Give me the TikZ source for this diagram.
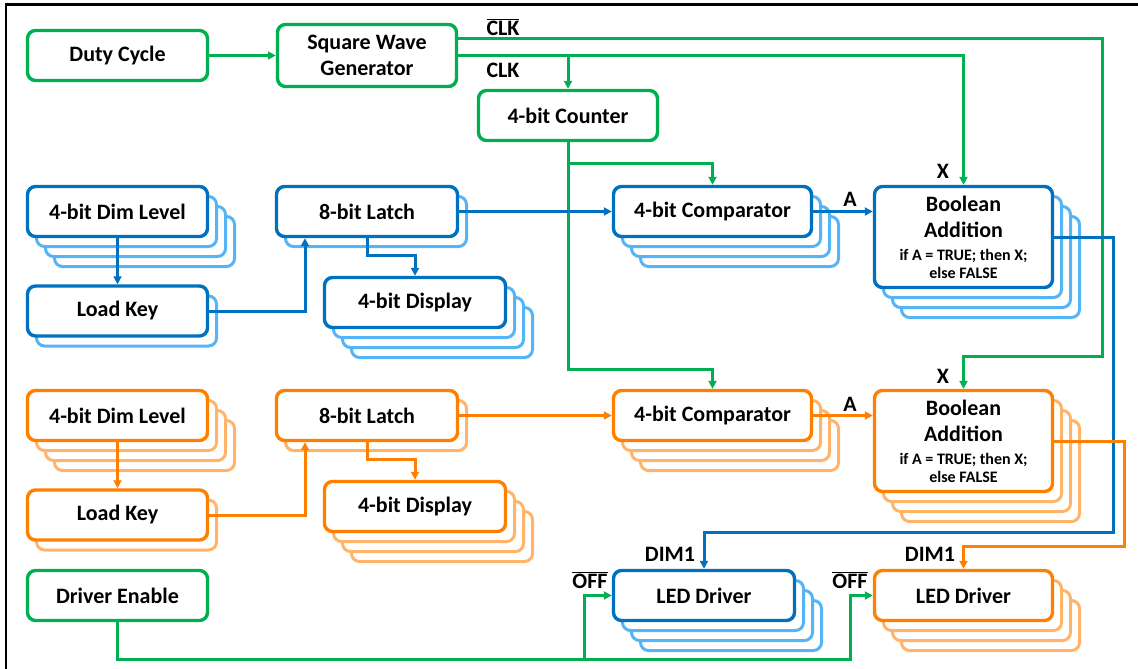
\documentclass[tikz,border=0pt]{standalone}
\usepackage{fontspec}
\setmainfont{Carlito}
\usepackage{tikz}
\usetikzlibrary{arrows.meta,positioning,shadows}

\definecolor{cgreen}{RGB}{0,176,80}
\definecolor{cblue}{RGB}{0,112,192}
\definecolor{cblueL}{RGB}{85,180,246}
\definecolor{corange}{RGB}{255,128,0}
\definecolor{corangeL}{RGB}{255,180,106}

\tikzset{
  box/.style={draw=#1, line width=3.4pt, rounded corners=8pt, fill=white, align=center,
    minimum height=50pt, inner sep=2pt},
  stackone/.style={general shadow={shadow xshift=9pt, shadow yshift=-10pt, fill=white, draw=#1, line width=3pt}},
  stackthree/.style={
    general shadow={shadow xshift=27pt, shadow yshift=-30pt, fill=white, draw=#1, line width=3pt},
    general shadow={shadow xshift=18pt, shadow yshift=-20pt, fill=white, draw=#1, line width=3pt},
    general shadow={shadow xshift=9pt, shadow yshift=-10pt, fill=white, draw=#1, line width=3pt}},
  wire/.style={draw=#1, line width=3pt},
  lbl/.style={inner sep=0pt}
}
\newcommand{\smallfont}{\fontsize{16}{19}\selectfont}

\begin{document}
\begin{tikzpicture}[x=1pt, y=-1pt, >={Triangle[length=8pt,width=8pt]},
    every node/.style={font=\bfseries\fontsize{22}{26}\selectfont}]
  \useasboundingbox (0,0) rectangle (1138,669);
  \draw[line width=2.6pt] (6,669) -- (6,4.7) -- (1138,4.7);

  % Clock (top)
  \node[box=cgreen, minimum width=180pt] (duty) at (117.5,55.5) {Duty Cycle};
  \node[box=cgreen, minimum width=179pt, minimum height=62pt] (swg) at (367,55.5) {Square Wave\\Generator};
  \node[box=cgreen, minimum width=179pt] (counter) at (568,115.5) {4-bit Counter};

  % Channel 1 (blue)
  \node[box=cblue, stackthree=cblueL, minimum width=180pt] (dimlvlB) at (117.5,211.5) {4-bit Dim Level};
  \node[box=cblue, stackone=cblueL, minimum width=180pt] (loadB) at (117.5,311) {Load Key};
  \node[box=cblue, stackone=cblueL, minimum width=181pt] (latchB) at (367,211.5) {8-bit Latch};
  \node[box=cblue, stackthree=cblueL, minimum width=181pt] (dispB) at (415,302.5) {4-bit Display};
  \node[box=cblue, stackthree=cblueL, minimum width=198pt] (compB) at (712.5,211.5) {4-bit Comparator};
  \node[box=cblue, stackthree=cblueL, minimum width=178pt, minimum height=101pt] (boolB) at (963.5,237)
    {Boolean\\Addition\\[-3pt]{\smallfont if A = TRUE; then X;}\\[-8pt]{\smallfont else FALSE}};

  % Channel 2 (orange)
  \node[box=corange, stackthree=corangeL, minimum width=180pt] (dimlvlO) at (117.5,415.5) {4-bit Dim Level};
  \node[box=corange, stackone=corangeL, minimum width=180pt] (loadO) at (117.5,515) {Load Key};
  \node[box=corange, stackone=corangeL, minimum width=181pt] (latchO) at (367,415.5) {8-bit Latch};
  \node[box=corange, stackthree=corangeL, minimum width=181pt] (dispO) at (415,506.5) {4-bit Display};
  \node[box=corange, stackthree=corangeL, minimum width=198pt] (compO) at (712.5,415.5) {4-bit Comparator};
  \node[box=corange, stackthree=corangeL, minimum width=178pt, minimum height=101pt] (boolO) at (963.5,441)
    {Boolean\\Addition\\[-3pt]{\smallfont if A = TRUE; then X;}\\[-8pt]{\smallfont else FALSE}};

  % Drivers (bottom)
  \node[box=cgreen, minimum width=180pt] (driver) at (117.5,595.5) {Driver Enable};
  \node[box=cblue, stackthree=cblueL, minimum width=181pt] (ledB) at (704,595.5) {LED Driver};
  \node[box=corange, stackthree=corangeL, minimum width=178pt] (ledO) at (963.5,595.5) {LED Driver};

  % Labels
  \node[lbl] (lblClkBar) at (503,27) {$\overline{\hbox{CLK}}$};
  \node[lbl] (lblClk) at (503,70) {CLK};
  \node[lbl] (lblXB) at (943,171) {X};
  \node[lbl] (lblXO) at (943,376) {X};
  \node[lbl] (lblAB) at (850,199) {A};
  \node[lbl] (lblAO) at (850,404) {A};
  \node[lbl] (lblDimB) at (670,554) {DIM1};
  \node[lbl] (lblDimO) at (930,554) {DIM1};
  \node[lbl] (lblOffB) at (590,580) {$\overline{\hbox{OFF}}$};
  \node[lbl] (lblOffO) at (850,580) {$\overline{\hbox{OFF}}$};

  \coordinate (clkbarR) at (1102,356);
  \coordinate (dimcornerB) at (1113,532);
  \coordinate (dimcornerO) at (1124,546);
  \coordinate (offB) at (584,659);
  \coordinate (offO) at (850,659);

  % green wires
  \draw[wire=cgreen,->] (duty) -- (swg);
  \draw[wire=cgreen,->] ([yshift=16.5pt]swg.east) -| (clkbarR) -| (boolO.north);
  \draw[wire=cgreen,->] (swg.east) -| (boolB.north);
  \draw[wire=cgreen,->] (counter.north |- swg.east) -- (counter.north);
  \draw[wire=cgreen,->] (counter.south) -- ++(0,21) -| (compB.north);
  \draw[wire=cgreen,->] (counter.south) -- ++(0,227) -| (compO.north);
  \draw[wire=cgreen,->] (driver.south) |- (offB) |- (ledB.west);
  \draw[wire=cgreen,->] (offB) -- (offO) |- (ledO.west);

  % blue wires
  \draw[wire=cblue,->] (dimlvlB) -- (loadB);
  \draw[wire=cblue,->] (loadB.east) -| ([xshift=-62pt]latchB.south);
  \draw[wire=cblue,->] (latchB.south) -- ++(0,17) -| (dispB.north);
  \draw[wire=cblue,->] (latchB) -- (compB);
  \draw[wire=cblue,->] (compB.east) -- (compB.east -| boolB.west);
  \draw[wire=cblue,->] (boolB.east) -| (dimcornerB) -| (ledB.north);

  % orange wires
  \draw[wire=corange,->] (dimlvlO) -- (loadO);
  \draw[wire=corange,->] (loadO.east) -| ([xshift=-62pt]latchO.south);
  \draw[wire=corange,->] (latchO.south) -- ++(0,17) -| (dispO.north);
  \draw[wire=corange,->] (latchO) -- (compO);
  \draw[wire=corange,->] (compO.east) -- (compO.east -| boolO.west);
  \draw[wire=corange,->] (boolO.east) -| (dimcornerO) -| (ledO.north);
\end{tikzpicture}
\end{document}
